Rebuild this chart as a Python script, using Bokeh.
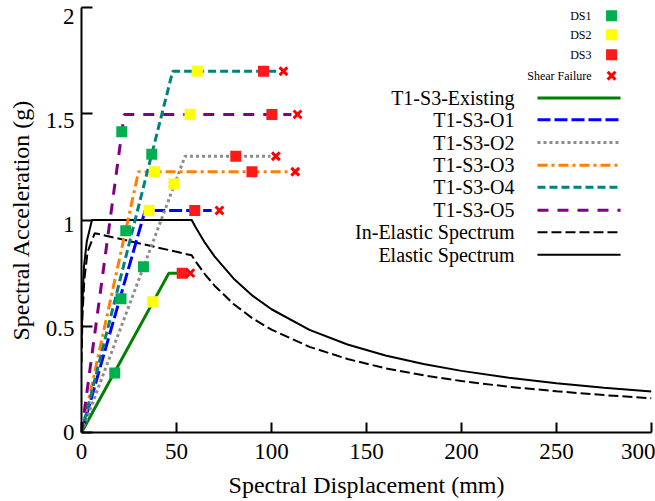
from bokeh.plotting import figure
from bokeh.models import Range1d, FixedTicker, Label, LinearAxis, CustomJSTickFormatter
from bokeh.embed import file_html
from bokeh.resources import INLINE

FONT = "Liberation Serif"

# ---------------- data ----------------
elastic_sd = [0, 0.4, 1.3, 2.8, 5.5, 58, 60, 65, 70, 80, 90, 100, 120, 140, 160,
              180, 200, 225, 250, 275, 300]
elastic_sa = [0.40, 0.60, 0.78, 0.90, 1.0, 1.0, 0.967, 0.892, 0.829, 0.725, 0.644,
              0.58, 0.483, 0.414, 0.362, 0.322, 0.29, 0.258, 0.232, 0.211, 0.193]

inelastic_sd = [0, 0.5, 1.5, 3.2, 7, 58, 60, 65, 70, 80, 90, 100, 120, 140, 160,
                180, 200, 225, 250, 275, 300]
inelastic_sa = [0.33, 0.55, 0.72, 0.85, 0.938, 0.834, 0.806, 0.744, 0.691, 0.605,
                0.537, 0.484, 0.403, 0.346, 0.302, 0.269, 0.242, 0.215, 0.194,
                0.176, 0.161]

existing_sd = [0, 46, 53]
existing_sa = [0, 0.75, 0.75]
o1_sd = [0, 33.5, 68.5]
o1_sa = [0, 1.045, 1.045]
o2_sd = [0, 54.5, 99.5]
o2_sa = [0, 1.30, 1.30]
o3_sd = [0, 30, 109]
o3_sa = [0, 1.227, 1.227]
o4_sd = [0, 48, 103]
o4_sa = [0, 1.70, 1.70]
o5_sd = [0, 22.5, 110.5]
o5_sa = [0, 1.497, 1.497]

ds1_sd = [17.5, 20.8, 32.6, 23.3, 37.0, 21.2]
ds1_sa = [0.28, 0.63, 0.78, 0.95, 1.31, 1.415]
ds2_sd = [37.5, 35.6, 48.7, 38.4, 61.0, 57.2]
ds2_sa = [0.615, 1.045, 1.17, 1.227, 1.70, 1.497]
ds3_sd = [53.0, 59.6, 81.2, 89.7, 95.8, 100.2]
ds3_sa = [0.75, 1.045, 1.30, 1.227, 1.70, 1.497]
sf_sd = [57.3, 72.6, 102.3, 112.5, 106.3, 113.7]
sf_sa = [0.75, 1.045, 1.30, 1.227, 1.70, 1.497]

x_ticks = [0, 50, 100, 150, 200, 250, 300]
y_ticks = [0, 0.5, 1, 1.5, 2]
y_tick_labels = ["0", "0.5", "1", "1.5", "2"]

series_names = ["T1-S3-Existing", "T1-S3-O1", "T1-S3-O2", "T1-S3-O3",
                "T1-S3-O4", "T1-S3-O5", "In-Elastic Spectrum", "Elastic Spectrum"]
ds_names = ["DS1", "DS2", "DS3", "Shear Failure"]

# ---------------- layout ----------------
W, H = 655, 501
BL, BR, BT, BB = 81, 4, 7, 69
X0, X1 = 0, 300
Y0, Y1 = 0, 2.0

p = figure(width=W, height=H, output_backend="svg", toolbar_location=None,
           x_range=Range1d(X0, X1), y_range=Range1d(Y0, Y1),
           min_border_left=BL, min_border_right=BR, min_border_top=BT,
           min_border_bottom=BB)
p.outline_line_color = None
p.grid.grid_line_color = None
p.background_fill_color = "white"
p.border_fill_color = "white"

def style_axis(ax):
    ax.axis_line_width = 2
    ax.axis_line_color = "black"
    ax.major_tick_line_width = 2
    ax.major_tick_line_color = "black"
    ax.major_tick_out = 0
    ax.minor_tick_line_color = None
    ax.major_label_text_font = FONT
    ax.major_label_text_font_size = "23px"
    ax.major_label_text_color = "black"
    ax.axis_label_text_font = FONT
    ax.axis_label_text_font_size = "24px"
    ax.axis_label_text_font_style = "normal"
    ax.axis_label_text_color = "black"

style_axis(p.xaxis[0])
style_axis(p.yaxis[0])

p.xaxis.ticker = FixedTicker(ticks=x_ticks)
p.xaxis.major_tick_in = 10
p.xaxis.major_label_standoff = 11
p.xaxis.axis_label = "Spectral Displacement (mm)"
p.xaxis.axis_label_standoff = 10

# tick axis (ticks only)
p.yaxis.ticker = FixedTicker(ticks=y_ticks)
p.yaxis.major_tick_in = 11
p.yaxis.major_label_standoff = 0
p.yaxis.formatter = CustomJSTickFormatter(code="return ''")

# label axis: its range is slightly stretched so labels sit a little below
# their ticks, as in the reference
p.extra_y_ranges = {"lab": Range1d(Y0, Y1 * 1.0226)}
lab_axis = LinearAxis(y_range_name="lab", ticker=FixedTicker(ticks=y_ticks),
                      formatter=CustomJSTickFormatter(
                          args=dict(vals=y_ticks, labs=y_tick_labels),
                          code="const i = vals.indexOf(tick); return i >= 0 ? labs[i] : ''"))
style_axis(lab_axis)
lab_axis.axis_line_color = None
lab_axis.major_tick_line_color = None
lab_axis.major_label_standoff = 7
lab_axis.axis_label = "Spectral Acceleration (g)"
lab_axis.axis_label_standoff = 9
p.add_layout(lab_axis, "left")

# ---------------- spectra ----------------
p.line(elastic_sd, elastic_sa, line_color="black", line_width=2)
p.line(inelastic_sd, inelastic_sa, line_color="black", line_width=2, line_dash="10 4")

styles = [
    (existing_sd, existing_sa, "#008000", "solid"),
    (o1_sd, o1_sa, "#0000FF", "13 4"),
    (o2_sd, o2_sa, "#8C8C8C", "3 3"),
    (o3_sd, o3_sa, "#FF8000", "10 4 3 4"),
    (o4_sd, o4_sa, "#008080", "8 4"),
    (o5_sd, o5_sa, "#800080", "11 9"),
]
for xs, ys, c, d in styles:
    p.line(xs, ys, line_color=c, line_width=3, line_dash=d)

p.scatter(ds1_sd, ds1_sa, marker="square", size=11, fill_color="#00B050", line_color=None)
p.scatter(ds2_sd, ds2_sa, marker="square", size=11, fill_color="#FFFF00", line_color="#F0F090", line_width=0.5)
p.scatter(ds3_sd, ds3_sa, marker="square", size=11, fill_color="#FF1A1A", line_color=None)
p.scatter(sf_sd, sf_sa, marker="x", size=11, line_color="#FF0000", line_width=3)

# ---------------- legends (positions from reference pixels) ----------------
def lx(px):
    return (px - 81.5) / 1.898

def ly(py):
    return (432.3 - py) / 212.5

ds_rows = [15.5, 34.5, 54.5, 75.5]
ds_markers = [("square", "#00B050"), ("square", "#FFFF00"), ("square", "#FF1A1A"), ("x", "#FF0000")]
for name, row, (mk, col) in zip(ds_names, ds_rows, ds_markers):
    p.add_layout(Label(x=lx(591), y=ly(row), text=name, text_align="right",
                       text_baseline="middle", text_font=FONT,
                       text_font_size="12px", text_color="black"))
    if mk == "x":
        p.scatter([lx(611)], [ly(row)], marker="x", size=11, line_color=col, line_width=3)
    else:
        p.scatter([lx(611)], [ly(row)], marker="square", size=11, fill_color=col,
                  line_color=None)

leg_rows = [97.7, 119.5, 142.3, 165, 187, 210, 232, 254.5]
leg_styles = [(s[2], s[3], 3) for s in styles] + [("black", "10 4", 2), ("black", "solid", 2)]
for name, row, (c, d, w) in zip(series_names, leg_rows, leg_styles):
    p.add_layout(Label(x=lx(514), y=ly(row), text=name, text_align="right",
                       text_baseline="middle", text_font=FONT,
                       text_font_size="20px", text_color="black"))
    p.line([lx(537), lx(620)], [ly(row), ly(row)], line_color=c, line_width=w, line_dash=d)

open("out.html", "w").write(file_html(p, INLINE))
